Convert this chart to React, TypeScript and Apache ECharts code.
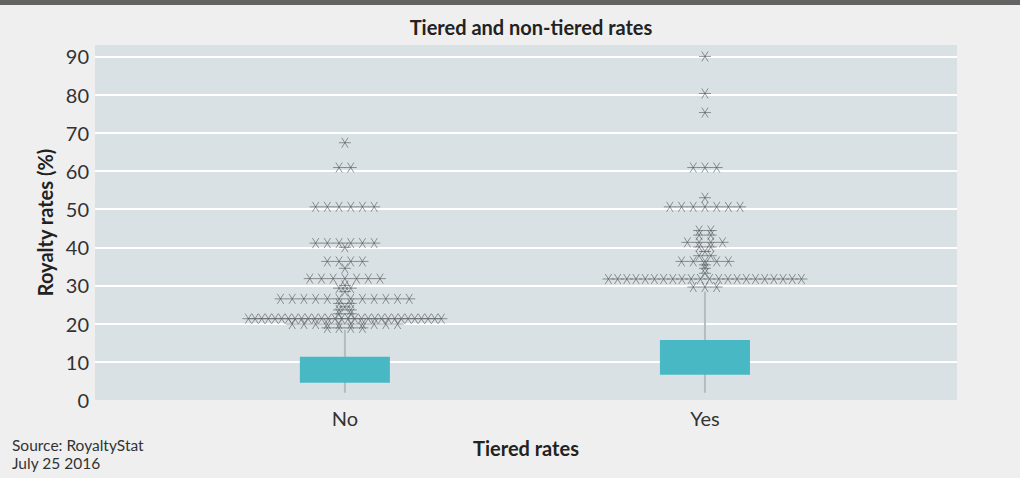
import React, { useEffect, useRef } from "react";
import * as echarts from "echarts";

// Categories on the x axis
const categories = ["No", "Yes"];

// Box statistics per category (royalty rate, %)
const whiskerLow = [1.9, 1.9];
const quartile1 = [4.5, 6.6];
const quartile3 = [11.3, 15.7];
const whiskerHigh = [18.4, 28.4];

// Outliers per category: [rate, number of agreements at that rate]
const outliersNo: [number, number][] = [
  [67.4, 1], [60.9, 2], [50.6, 6], [41.1, 6], [40.0, 1], [36.3, 4], [34.5, 1],
  [31.8, 7], [30.0, 1], [29.3, 2], [28.4, 1], [26.5, 12], [25.3, 2], [24.4, 1],
  [23.6, 2], [22.6, 2], [21.3, 30], [19.9, 10], [18.9, 4],
];
const outliersYes: [number, number][] = [
  [90.0, 1], [80.3, 1], [75.3, 1], [60.9, 3], [53.0, 1], [50.6, 7], [44.4, 2],
  [43.2, 2], [41.3, 4], [40.1, 2], [38.9, 1], [37.8, 2], [36.3, 5], [35.4, 1],
  [34.5, 1], [33.2, 1], [31.7, 22], [29.6, 3],
];

const yTicks = [0, 10, 20, 30, 40, 50, 60, 70, 80, 90];

// Dot-strip layout: equal rates are spread side by side around the category centre
const STEP = 0.0325; // preferred spacing, in category units
const MAX_SPREAD = 0.536; // widest a row may get
function stripPoints(groups: [number, number][], center: number) {
  const pts: number[][] = [];
  groups.forEach(([v, n]) => {
    const step = n > 1 ? Math.min(STEP, MAX_SPREAD / (n - 1)) : 0;
    for (let k = 0; k < n; k++) {
      pts.push([center + (k - (n - 1) / 2) * step, v]);
    }
  });
  return pts;
}

const FONT = "Lato, 'Source Sans Pro', 'Noto Sans', sans-serif";
const FS = 20;

export default function App() {
  const ref = useRef<HTMLDivElement>(null);

  useEffect(() => {
    document.body.style.margin = "0";
    if (!ref.current) return;
    const chart = echarts.init(ref.current, undefined, { renderer: "svg" });

    const boxData = categories.map((_, i) => [
      i, whiskerLow[i], quartile1[i], quartile3[i], whiskerHigh[i],
    ]);
    const outlierData = [
      ...stripPoints(outliersNo, 0),
      ...stripPoints(outliersYes, 1),
    ];

    chart.setOption({
      animation: false,
      backgroundColor: "#efefef",
      textStyle: { fontFamily: FONT },
      title: {
        text: "Tiered and non-tiered rates",
        left: 526,
        textAlign: "center",
        top: 12,
        textStyle: { fontFamily: FONT, fontSize: FS, fontWeight: "bold", color: "#222" },
      },
      graphic: [
        { type: "rect", left: 0, top: 0, shape: { width: 1020, height: 5 }, style: { fill: "#636361" } },
        {
          type: "text",
          left: 12,
          top: 436,
          style: {
            text: "Source: RoyaltyStat\nJuly 25 2016",
            font: `15.5px ${FONT}`,
            fill: "#333",
            lineHeight: 18,
          },
        },
      ],
      grid: {
        left: 95,
        right: 63,
        top: 45,
        bottom: 78,
        show: true,
        backgroundColor: "#d9e1e4",
        borderWidth: 0,
      },
      xAxis: {
        type: "value",
        min: -0.694,
        max: 1.7,
        name: "Tiered rates",
        nameLocation: "middle",
        nameGap: 38,
        nameTextStyle: { fontFamily: FONT, fontSize: FS, fontWeight: "bold", color: "#222" },
        axisLine: { show: false },
        axisTick: { show: false },
        splitLine: { show: false },
        axisLabel: {
          customValues: [0, 1],
          formatter: (v: number) => categories[Math.round(v)],
          fontFamily: FONT,
          fontSize: FS,
          color: "#333",
          margin: 8,
        },
      },
      yAxis: {
        type: "value",
        min: 0,
        max: 93,
        interval: 10,
        name: "Royalty rates (%)",
        nameLocation: "middle",
        nameRotate: 90,
        nameGap: 40,
        nameTextStyle: { fontFamily: FONT, fontSize: FS, fontWeight: "bold", color: "#222" },
        axisLine: { show: false },
        axisTick: { show: false },
        splitLine: {
          show: true,
          showMinLine: false,
          showMaxLine: false,
          lineStyle: { color: "#ffffff", width: 2 },
        },
        axisLabel: {
          customValues: yTicks,
          fontFamily: FONT,
          fontSize: FS,
          color: "#333",
          margin: 6,
        },
      },
      series: [
        {
          type: "custom",
          name: "box",
          data: boxData,
          encode: { x: 0, y: [1, 2, 3, 4] },
          z: 2,
          renderItem: (_params: any, api: any) => {
            const x = api.value(0);
            const pLow = api.coord([x, api.value(1)]);
            const pQ1 = api.coord([x, api.value(2)]);
            const pQ3 = api.coord([x, api.value(3)]);
            const pHigh = api.coord([x, api.value(4)]);
            const half = api.size([0.125, 0])[0];
            const whisker = { stroke: "#b3bcbf", lineWidth: 2 };
            return {
              type: "group",
              children: [
                {
                  type: "line",
                  shape: { x1: pLow[0], y1: pLow[1], x2: pHigh[0], y2: pHigh[1] },
                  style: whisker,
                },
                {
                  type: "rect",
                  shape: { x: pQ3[0] - half, y: pQ3[1], width: half * 2, height: pQ1[1] - pQ3[1] },
                  style: { fill: "#48b8c4" },
                },
              ],
            };
          },
        },
        {
          type: "custom",
          name: "outliers",
          data: outlierData,
          encode: { x: 0, y: 1 },
          z: 3,
          renderItem: (_params: any, api: any) => {
            const p = api.coord([api.value(0), api.value(1)]);
            const st = { stroke: "rgba(80,84,86,0.6)", lineWidth: 1 };
            return {
              type: "group",
              children: [
                { type: "line", shape: { x1: p[0] - 6, y1: p[1], x2: p[0] + 6, y2: p[1] }, style: st },
                { type: "line", shape: { x1: p[0] - 3.2, y1: p[1] - 5, x2: p[0] + 3.2, y2: p[1] + 5 }, style: st },
                { type: "line", shape: { x1: p[0] + 3.2, y1: p[1] - 5, x2: p[0] - 3.2, y2: p[1] + 5 }, style: st },
              ],
            };
          },
        },
      ],
    });

    return () => chart.dispose();
  }, []);

  return <div ref={ref} style={{ width: 1020, height: 478 }} />;
}
